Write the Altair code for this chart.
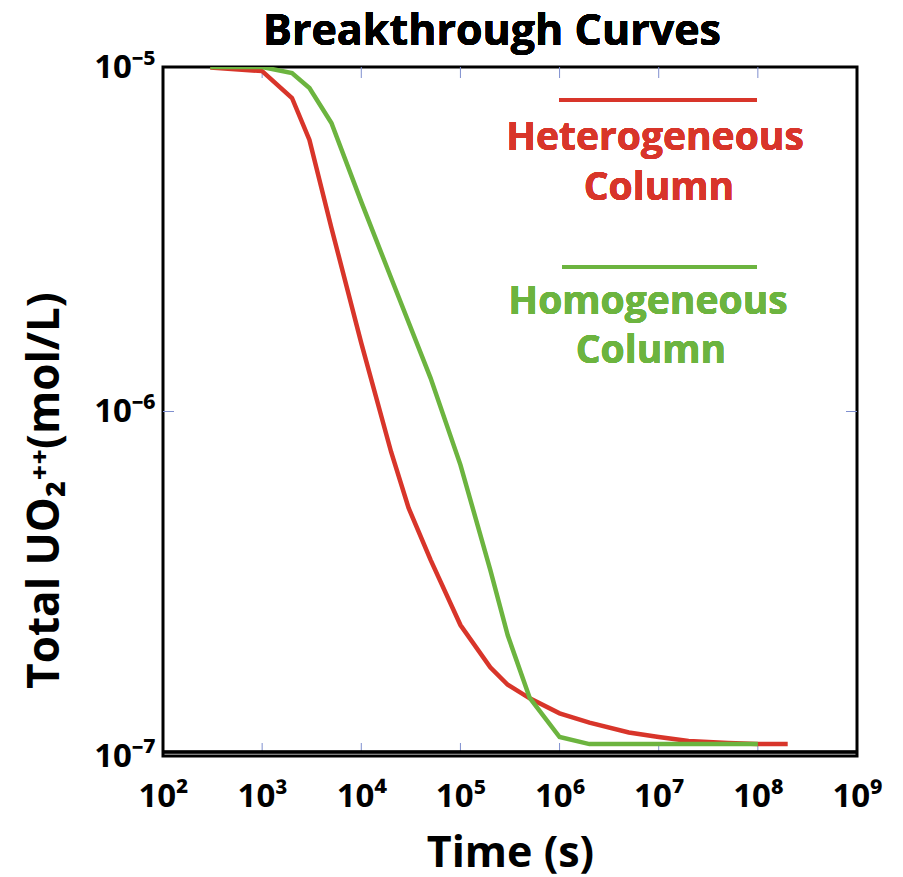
import altair as alt
import pandas as pd

# Heterogeneous column (red)
het_t = [3e2, 1e3, 2e3, 3e3, 5e3, 1e4, 2e4, 3e4, 5e4, 1e5, 2e5, 3e5, 5e5,
         1e6, 2e6, 5e6, 1e7, 2e7, 5e7, 1e8, 2e8]
het_c = [9.97e-6, 9.73e-6, 8.13e-6, 6.14e-6, 3.41e-6, 1.58e-6, 7.63e-7, 5.25e-7,
         3.71e-7, 2.40e-7, 1.81e-7, 1.61e-7, 1.47e-7, 1.33e-7, 1.25e-7, 1.17e-7,
         1.135e-7, 1.105e-7, 1.09e-7, 1.083e-7, 1.083e-7]

# Homogeneous column (green)
hom_t = [3e2, 1e3, 2e3, 3e3, 5e3, 1e4, 2e4, 5e4, 1e5, 2e5, 3e5, 5e5,
         1e6, 2e6, 1e7, 1e8]
hom_c = [1e-5, 1e-5, 9.6e-6, 8.69e-6, 6.88e-6, 4.06e-6, 2.44e-6, 1.25e-6,
         7.0e-7, 3.47e-7, 2.24e-7, 1.474e-7, 1.135e-7, 1.083e-7, 1.083e-7, 1.083e-7]

x_ticks = [1e2, 1e3, 1e4, 1e5, 1e6, 1e7, 1e8, 1e9]
y_ticks = [1e-7, 1e-6, 1e-5]
inner_x_ticks = [1e3, 1e4, 1e5, 1e6, 1e7, 1e8]
inner_y_ticks = [1e-6]

RED = "#d8352a"
GREEN = "#6cb43f"
TICK = "#7f8fcf"
FONT = "Open Sans"
W, H = 694, 689

df = pd.concat([
    pd.DataFrame({"t": het_t, "c": het_c, "series": "Heterogeneous"}),
    pd.DataFrame({"t": hom_t, "c": hom_c, "series": "Homogeneous"}),
])

sup = "['⁰','¹','²','³','⁴','⁵','⁶','⁷','⁸','⁹']"
xscale = alt.Scale(type="log", domain=[1e2, 1e9])
yscale = alt.Scale(type="log", domain=[1e-7, 1e-5])

xaxis = alt.Axis(values=x_ticks, domain=False, ticks=False, grid=False,
                 labelExpr="'10' + " + sup + "[round(log(datum.value)/LN10)]",
                 labelFont=FONT, labelFontSize=33, labelFontWeight="bold",
                 labelColor="black", labelPadding=24, labelOverlap=False,
                 labelFlush=False,
                 title="Time (s)", titleFont=FONT, titleFontSize=43,
                 titleFontWeight="bold", titleColor="black",
                 titleY=97, titleBaseline="middle")
yaxis = alt.Axis(values=y_ticks, domain=False, ticks=False, grid=False,
                 labelExpr="'10⁻' + " + sup + "[round(-log(datum.value)/LN10)]",
                 labelFont=FONT, labelFontSize=33, labelFontWeight="bold",
                 labelColor="black", labelPadding=8, labelOverlap=False,
                 labelFlush=False, labelBaseline="middle",
                 title="Total  UO₂⁺⁺(mol/L)", titleFont=FONT, titleFontSize=44,
                 titleFontWeight="bold", titleColor="black",
                 titleX=-118, titleY=423, titleAlign="center",
                 titleBaseline="middle", titleAngle=-90)

lines = alt.Chart(df).mark_line(strokeWidth=4.5, clip=True).encode(
    x=alt.X("t:Q", scale=xscale, axis=xaxis),
    y=alt.Y("c:Q", scale=yscale, axis=yaxis),
    color=alt.Color("series:N", scale=alt.Scale(domain=["Heterogeneous", "Homogeneous"],
                                                range=[RED, GREEN]), legend=None),
)

xt = pd.DataFrame({"t": inner_x_ticks})
yt = pd.DataFrame({"c": inner_y_ticks})
bottom_ticks = alt.Chart(xt).mark_rule(color=TICK, strokeWidth=1).encode(
    x=alt.X("t:Q", scale=xscale), y=alt.value(H - 5), y2=alt.value(H - 13))
top_ticks = alt.Chart(xt).mark_rule(color=TICK, strokeWidth=1).encode(
    x=alt.X("t:Q", scale=xscale), y=alt.value(0), y2=alt.value(11))
left_ticks = alt.Chart(yt).mark_rule(color=TICK, strokeWidth=1).encode(
    y=alt.Y("c:Q", scale=yscale), x=alt.value(0), x2=alt.value(11))
right_ticks = alt.Chart(yt).mark_rule(color=TICK, strokeWidth=1).encode(
    y=alt.Y("c:Q", scale=yscale), x=alt.value(W), x2=alt.value(W - 11))

double_line = alt.Chart(xt).mark_rule(color="black", strokeWidth=2.5).encode(
    x=alt.value(-1), x2=alt.value(W + 1), y=alt.value(H - 4))

def legend_rule(color, y, x1, x2):
    return alt.Chart(xt).mark_rule(color=color, strokeWidth=4).encode(
        x=alt.value(x1), x2=alt.value(x2), y=alt.value(y))

def legend_text(txt, color, x, y, size=39):
    return alt.Chart(xt).mark_text(text=txt, color=color, font=FONT, fontSize=size,
                                   fontWeight="bold", align="center",
                                   baseline="middle").encode(
        x=alt.value(x), y=alt.value(y))

title = alt.Chart(xt).mark_text(text="Breakthrough Curves", color="black", font=FONT,
                                fontSize=43, fontWeight="bold", align="center",
                                baseline="alphabetic").encode(
    x=alt.value(329), y=alt.value(-22))

legend = [
    legend_rule(RED, 33, 396, 594),
    legend_text("Heterogeneous", RED, 492, 71),
    legend_text("Column", RED, 496, 121),
    legend_rule(GREEN, 200, 399, 594),
    legend_text("Homogeneous", GREEN, 485, 235),
    legend_text("Column", GREEN, 488, 284),
]

chart = alt.layer(
    bottom_ticks, top_ticks, left_ticks, right_ticks, lines, double_line, title, *legend
).properties(
    width=W, height=H,
    autosize=alt.AutoSizeParams(type="none"),
    padding={"left": 163, "top": 67, "right": 46, "bottom": 121},
).configure(
    background="white",
    view=alt.ViewConfig(stroke="black", strokeWidth=3),
)

chart.save("out.html", embed_options={"renderer": "svg", "actions": False})
